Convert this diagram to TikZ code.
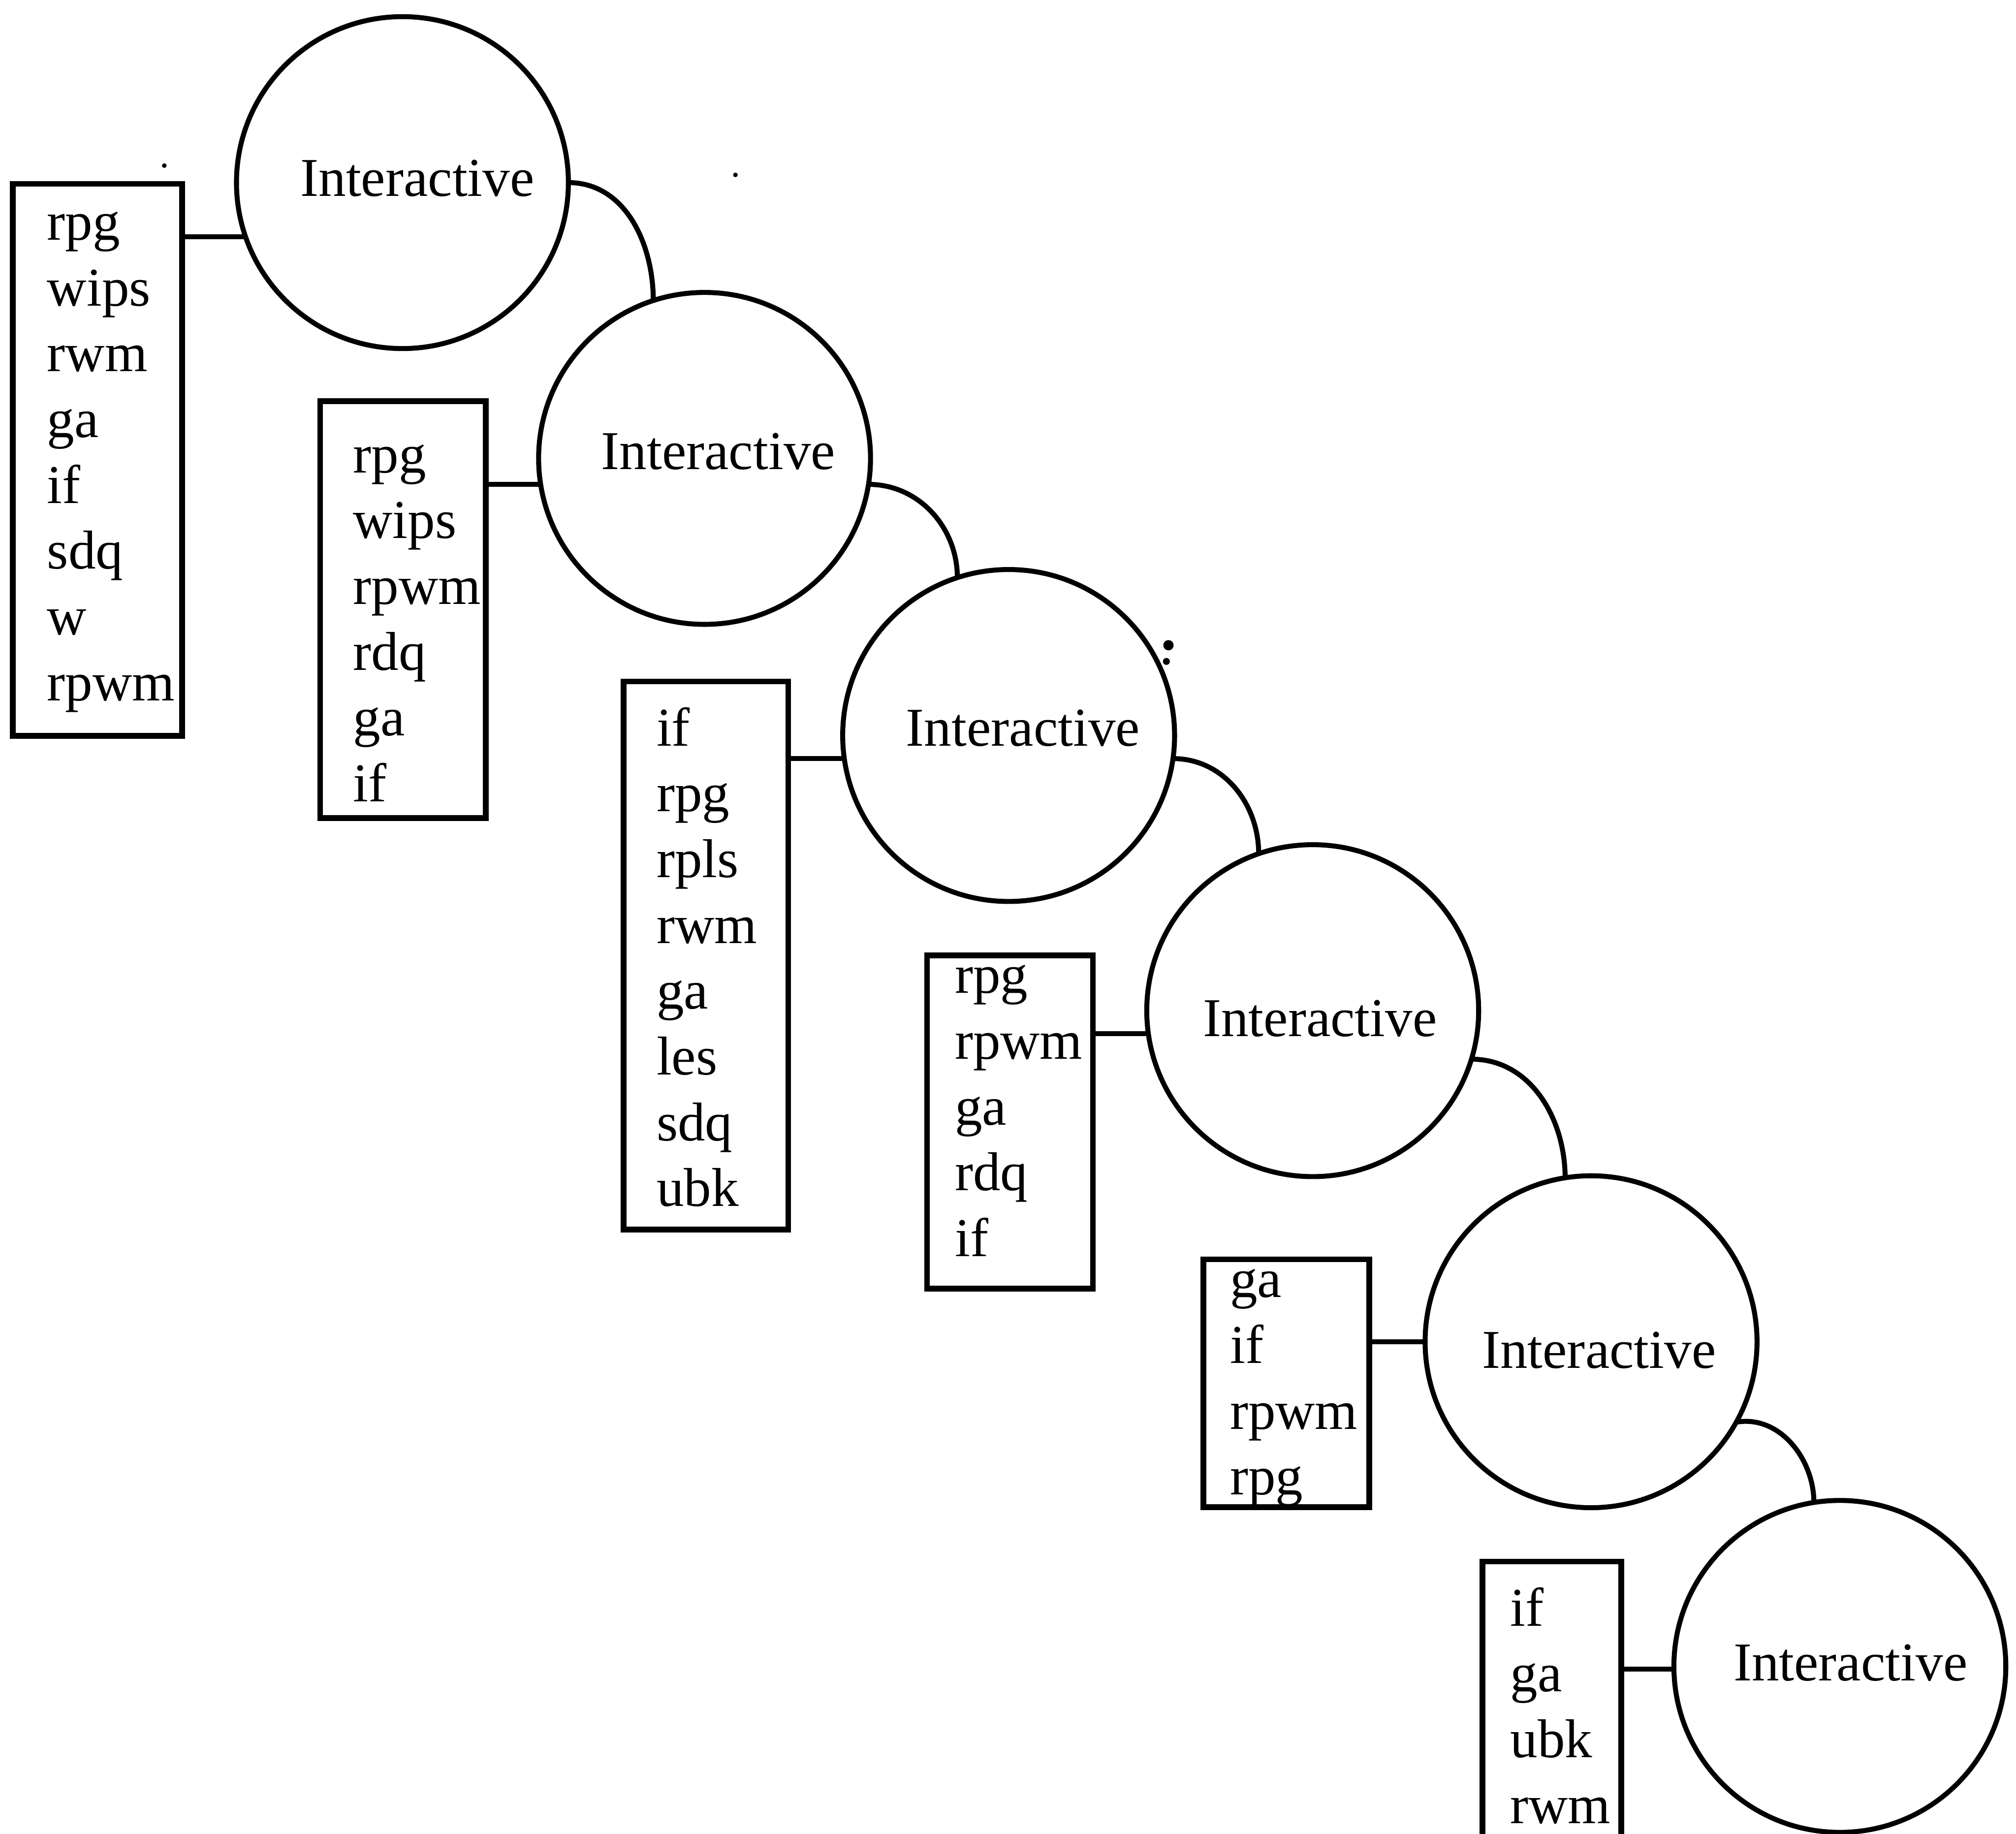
\documentclass[tikz,border=0pt]{standalone}
\usepackage{fontspec}
\setmainfont{Liberation Serif}
\begin{document}
\begin{tikzpicture}[x=0.01cm,y=0.01cm,
  unit/.style={draw, circle, line width=1.1pt, minimum size=2.58cm, inner sep=0pt, outer sep=0pt},
  listbox/.style={draw, rectangle, line width=1.25pt, inner sep=0pt, outer sep=0pt, anchor=north west},
  itemtext/.style={inner sep=0pt, anchor=base west, font=\fontsize{12.1}{14.55}\selectfont},
  unittext/.style={inner sep=0pt, anchor=base west, font=\fontsize{12.1}{14.55}\selectfont},
  link/.style={line width=1.1pt},
  speck/.style={fill=black}]
\useasboundingbox (0,0) rectangle (1568,-1426);
\clip (0,0) rectangle (1568,-1426);

% interactive units
\node[unit] (c1) at (313,-142) {};
\node[unit] (c2) at (548,-356.5) {};
\node[unit] (c3) at (784.5,-572) {};
\node[unit] (c4) at (1021,-786) {};
\node[unit] (c5) at (1237.5,-1043.5) {};
\node[unit] (c6) at (1431,-1296) {};

\node[unittext] (t1) at (233,-152.4) {Interactive};
\node[unittext] (t2) at (467,-365) {Interactive};
\node[unittext] (t3) at (704,-580) {Interactive};
\node[unittext] (t4) at (935,-806) {Interactive};
\node[unittext] (t5) at (1152,-1064) {Interactive};
\node[unittext] (t6) at (1347.6,-1307) {Interactive};

% item lists
\node[listbox, minimum width=1.315cm, minimum height=4.29cm] (b1) at (10,-143) {};
\node[listbox, minimum width=1.287cm, minimum height=3.24cm] (b2) at (249,-312) {};
\node[listbox, minimum width=1.28cm, minimum height=4.26cm] (b3) at (485,-530) {};
\node[listbox, minimum width=1.29cm, minimum height=2.59cm] (b4) at (721,-743) {};
\node[listbox, minimum width=1.29cm, minimum height=1.925cm] (b5) at (936,-979.5) {};
\node[listbox, minimum width=1.08cm, minimum height=2.6cm] (b6) at (1153,-1214.5) {};

\node[itemtext] (l1) at (36,-186.6) {\begin{tabular}[t]{@{}l@{}}rpg\\wips\\rwm\\ga\\if\\sdq\\w\\rpwm\end{tabular}};
\node[itemtext] (l2) at (274,-367.5) {\begin{tabular}[t]{@{}l@{}}rpg\\wips\\rpwm\\rdq\\ga\\if\end{tabular}};
\node[itemtext] (l3) at (510,-580) {\begin{tabular}[t]{@{}l@{}}if\\rpg\\rpls\\rwm\\ga\\les\\sdq\\ubk\end{tabular}};
\node[itemtext] (l4) at (742,-772.5) {\begin{tabular}[t]{@{}l@{}}rpg\\rpwm\\ga\\rdq\\if\end{tabular}};
\node[itemtext] (l5) at (956,-1009) {\begin{tabular}[t]{@{}l@{}}ga\\if\\rpwm\\rpg\end{tabular}};
\node[itemtext] (l6) at (1174,-1264.5) {\begin{tabular}[t]{@{}l@{}}if\\ga\\ubk\\rwm\end{tabular}};

% list-to-unit connectors
\draw[link] (b1.east |- c1.199) -- (c1.199);
\draw[link] (b2.east |- c2.189.1) -- (c2.189.1);
\draw[link] (b3.east |- c3.188.9) -- (c3.188.9);
\draw[link] (b4.east |- c4.188.4) -- (c4.188.4);
\draw[link] (b5.east |- c5.180) -- (c5.180);
\draw[link] (b6.east |- c6.181) -- (c6.181);

% unit-to-unit arcs
\draw[link] (c1.0) to[out=0,in=90] (c2.108);
\draw[link] (c2.-9.4) to[out=0,in=90] (c3.108.8);
\draw[link] (c3.-8.8) to[out=0,in=90] (c4.109);
\draw[link] (c4.-17) to[out=0,in=90] (c5.99);
\draw[link] (c5.-29.4) to[out=10,in=90] (c6.99);

% specks
\fill[speck] (127.8,-128.8) circle (1.8);
\fill[speck] (572,-136) circle (1.8);
\fill[speck] (908.8,-501.8) circle (4);
\fill[speck] (907.2,-514.4) circle (2.7);
\end{tikzpicture}
\end{document}
